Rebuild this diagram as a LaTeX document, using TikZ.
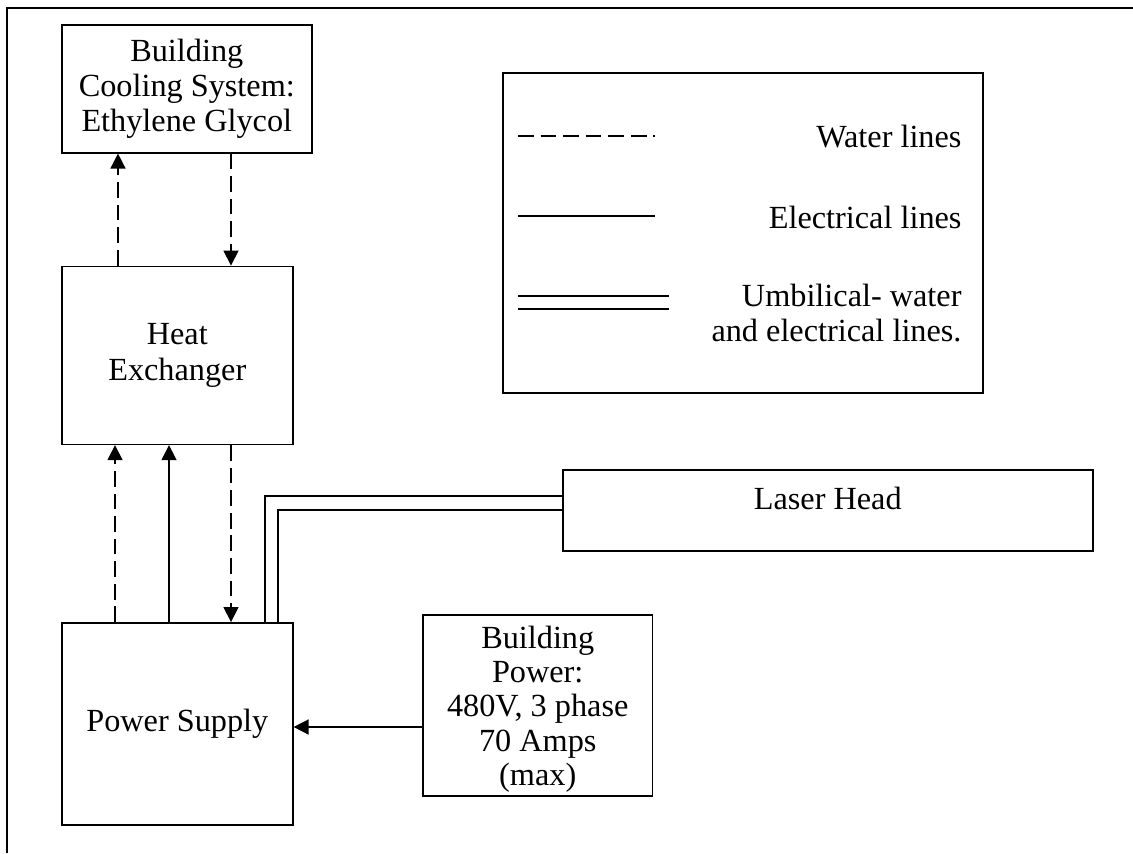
\documentclass[tikz,border=0pt]{standalone}
\usepackage{fontspec}
\setmainfont{Liberation Serif}
\usetikzlibrary{positioning,arrows.meta}

\begin{document}
\begin{tikzpicture}[x=0.0134cm, y=-0.0134cm,
  every node/.style={font=\fontsize{12.3}{13.5}\selectfont},
  blk/.style={draw=black, line width=0.6pt, align=center, inner xsep=2pt, inner ysep=1pt},
  arr/.style={-{Triangle[length=5.7pt, width=5.7pt]}},
  water/.style={dash pattern=on 6pt off 2.6pt},
  wire/.style={line width=0.6pt, draw=black},
  key/.style={inner sep=0pt, anchor=east}
]
\useasboundingbox (0,0) rectangle (1133,853);
% Page frame
\draw[line width=0.8pt] (7,853) -- (7,8) -- (1133,8);

% Left column: cooling, exchanger, supply
\node[blk, minimum width=3.35cm, minimum height=1.715cm, anchor=north west] (cool) at (61,24) {Building\\Cooling System:\\Ethylene Glycol};
\node[blk, minimum width=3.095cm, minimum height=2.385cm, below=1.5cm of cool.south west, anchor=north west] (hx) {Heat\\Exchanger};
\node[blk, minimum width=3.095cm, minimum height=2.707cm, below=2.37cm of hx.south west, anchor=north west] (ps) {Power Supply};

% Right side: laser head and mains
\node[blk, minimum width=7.1cm, minimum height=1.085cm, text depth=9pt, anchor=north west] (laser) at (562,469) {Laser Head};
\node[blk, minimum width=3.08cm, minimum height=2.425cm, anchor=north west,
  label={[align=center, yshift=-1.5pt, font=\fontsize{12.3}{13.1}\selectfont]center:Building\\Power:\\480V, 3 phase\\70 Amps\\(max)}] (bp) at (422,614) {};

% Legend
\node[blk, minimum width=6.43cm, minimum height=4.29cm, anchor=north west] (legend) at (502,72) {};
\coordinate (wa) at (518,136); \coordinate (wb) at (655,136);
\coordinate (ea) at (518,216); \coordinate (eb) at (655,216);
\coordinate (ua) at (518,296); \coordinate (ub) at (669,296);
\coordinate (uc) at (518,309); \coordinate (ud) at (669,309);
\draw[wire, water] (wa) -- (wb);
\draw[wire] (ea) -- (eb);
\draw[wire] (ua) -- (ub);
\draw[wire] (uc) -- (ud);
\node[key] (wtxt) at (962,137) {Water lines};
\node[key] (etxt) at (962,217) {Electrical lines};
\node[key, align=right] (utxt) at (962,313) {Umbilical- water\\and electrical lines.};

% Water loop
\draw[wire, water, arr] (hx.north -| 118,0) -- (cool.south -| 118,0);
\draw[wire, water, arr] (cool.south -| 231,0) -- (hx.north -| 231,0);
\draw[wire, water, arr] (ps.north -| 115,0) -- (hx.south -| 115,0);
\draw[wire, arr] (ps.north -| 169,0) -- (hx.south -| 169,0);
\draw[wire, water, arr] (hx.south -| 231,0) -- (ps.north -| 231,0);

% Umbilical to laser head
\draw[wire] (ps.north -| 265,0) |- (laser.west |- 0,496);
\draw[wire] (ps.north -| 278,0) |- (laser.west |- 0,510);

% Mains feed
\draw[wire, arr] (bp.west |- 0,727) -- (ps.east |- 0,727);
\end{tikzpicture}
\end{document}
